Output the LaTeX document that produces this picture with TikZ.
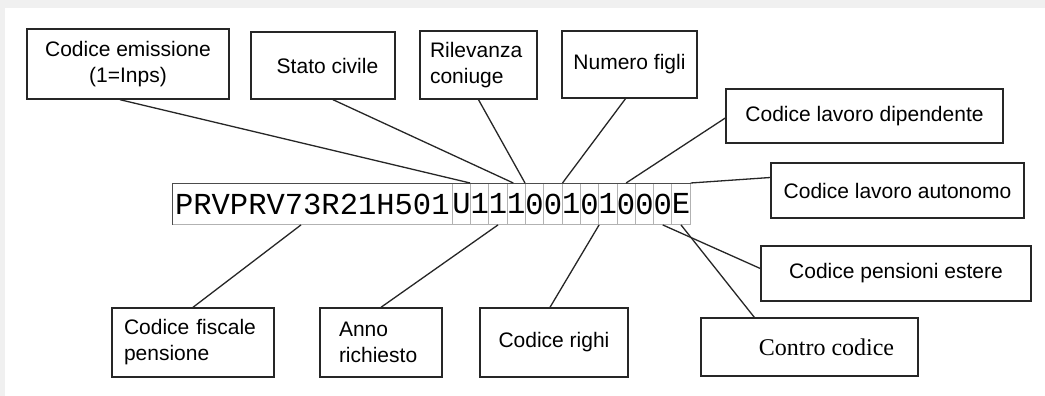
\documentclass[tikz,border=0pt]{standalone}
\usepackage{fontspec}
\setmainfont{Liberation Sans}
\newfontfamily\codefont{Liberation Mono}
\newfontfamily\seriffont{Liberation Serif}
\usetikzlibrary{calc}

\begin{document}
\begin{tikzpicture}[x=1pt,y=-1pt,
  lbl/.style={draw=black!85,line width=1.4pt,inner sep=0pt,font=\fontsize{21}{26}\selectfont},
  cell/.style={draw=black!30,line width=0.9pt,inner sep=0pt,minimum height=41pt,anchor=north west,font=\codefont\fontsize{30.5}{30.5}\selectfont},
  lnk/.style={line width=1.3pt,black!85}]
\fill[black!6] (0,0) rectangle (1045,396);
\fill[white] (5,8) rectangle (1045,396);
\useasboundingbox (0,0) rectangle (1045,396);

\node[cell,minimum width=279.8pt] (cf) at (172,183) {PRVPRV73R21H501};
\foreach \c [count=\i] in {U,1,1,1,0,0,1,0,1,0,0,0,E}
  \node[cell,minimum width=18.3pt] (c\i) at (451.8+18.3*\i-18.3,183) {\c};
\draw[black!70,line width=1pt] (cf.south west) -- (cf.north west) -- (c13.north east);

\node[lbl,minimum width=202pt,minimum height=70pt,align=center] (emis) at (128,64) {Codice emissione\\(1=Inps)};
\node[lbl,minimum width=144pt,minimum height=67pt] (stato) at (323,65.5) {\hspace*{9pt}Stato civile};
\node[lbl,inner xsep=10pt,text width=97pt,minimum height=68pt,align=left] (ril) at (478.5,65) {Rilevanza\\coniuge};
\node[lbl,minimum width=135pt,minimum height=67pt] (figli) at (629.5,64.5) {Numero figli};
\node[lbl,minimum width=277pt,minimum height=54pt] (dip) at (864.5,116) {Codice lavoro dipendente};
\node[lbl,minimum width=253pt,minimum height=55pt] (aut) at (897.5,190.5) {Codice lavoro autonomo};
\node[lbl,minimum width=270pt,minimum height=55pt] (est) at (896,273.5) {Codice pensioni estere};
\node[lbl,minimum width=217pt,minimum height=58pt,font=\seriffont\fontsize{24}{28}\selectfont] (contro) at (809.5,347) {\hspace*{34pt}Contro codice};
\node[lbl,inner xsep=12pt,text width=138pt,minimum height=69pt,align=left] (fisc) at (193,342.5) {Codice fiscale\\pensione};
\node[lbl,inner xsep=19pt,text width=84pt,minimum height=69pt,align=left] (anno) at (381,342.5) {Anno\\richiesto};
\node[lbl,minimum width=148pt,minimum height=69pt] (righi) at (554,342.5) {Codice righi};

\draw[lnk] ([xshift=-8pt]emis.south) -- (c2.north west);
\draw[lnk] ([xshift=10pt]stato.south) -- ([xshift=-3pt]c4.north);
\draw[lnk] (ril.south) -- (c5.north west);
\draw[lnk] ([xshift=-4pt]figli.south) -- (c6.north east);
\draw[lnk] ([yshift=-2pt]dip.west) -- (c10.north);
\draw[lnk] (c13.north east) -- ([yshift=13pt]aut.west);
\draw[lnk] (c12.south) -- ([yshift=5pt]est.west);
\draw[lnk] (c13.south) -- ([xshift=54pt]contro.north west);
\draw[lnk] ([xshift=129pt]cf.south west) -- (fisc.north);
\draw[lnk] (c3.south) -- (anno.north);
\draw[lnk] (c8.south east) -- ([xshift=-4pt]righi.north);
\end{tikzpicture}
\end{document}
